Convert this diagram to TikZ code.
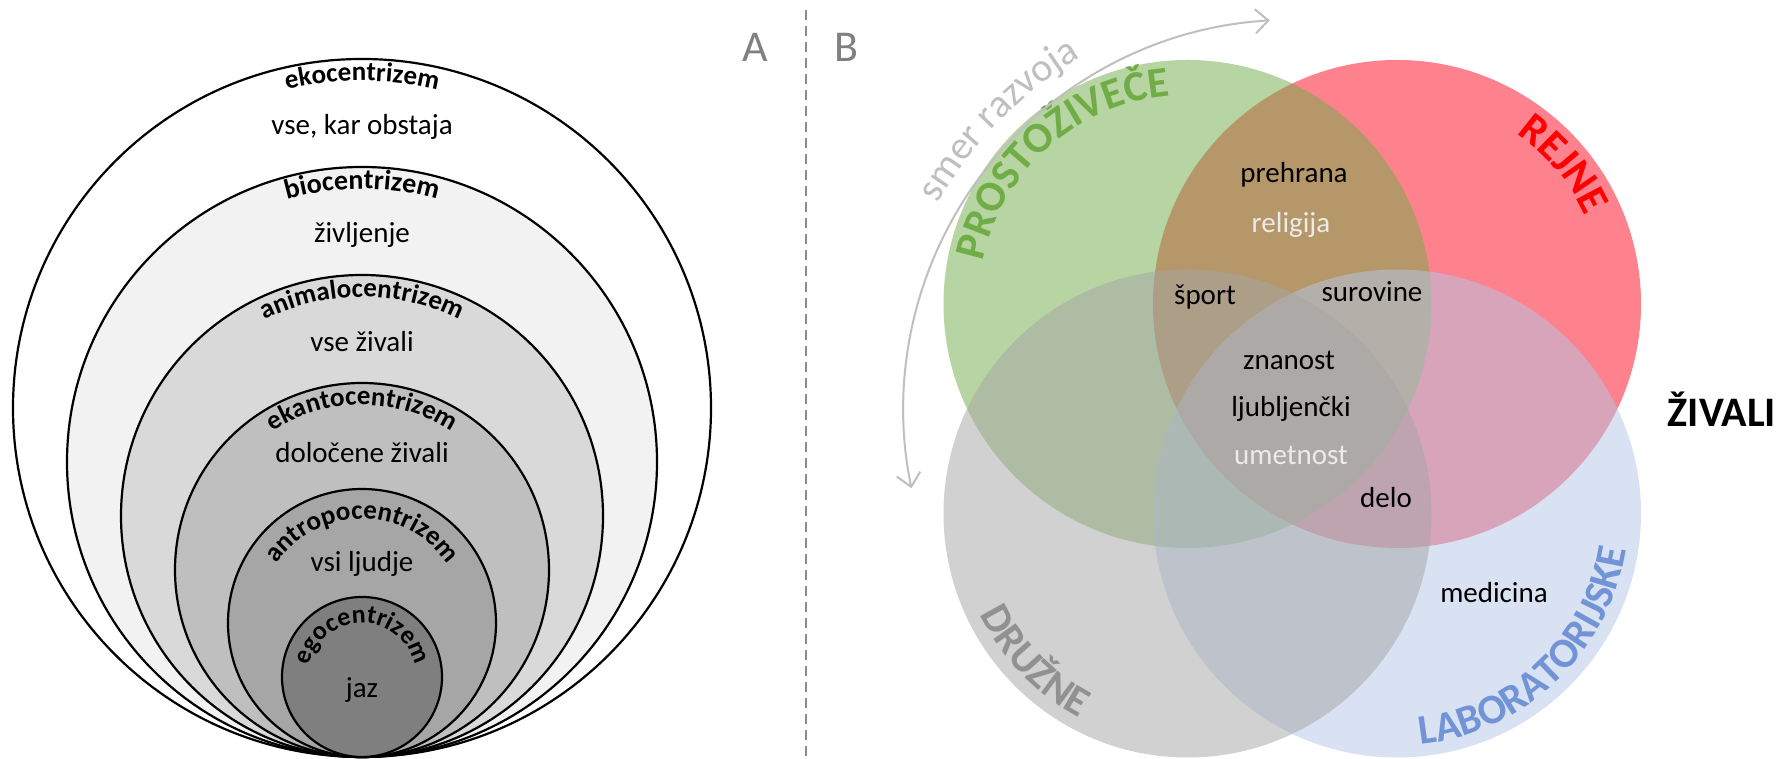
\documentclass[tikz,border=0pt]{standalone}
\usepackage{fontspec}
\setmainfont{Carlito}
\usetikzlibrary{decorations.text,arrows.meta}
\definecolor{fillB}{RGB}{242,242,242}
\definecolor{fillC}{RGB}{217,217,217}
\definecolor{fillD}{RGB}{191,191,191}
\definecolor{fillE}{RGB}{166,166,166}
\definecolor{fillF}{RGB}{127,127,127}
\definecolor{setgreen}{RGB}{112,173,71}
\definecolor{setred}{RGB}{252,6,28}
\definecolor{setblue}{RGB}{180,199,231}
\definecolor{setgray}{RGB}{165,165,165}
\definecolor{labgreen}{RGB}{112,173,71}
\definecolor{labred}{RGB}{255,0,0}
\definecolor{labgray}{RGB}{145,145,145}
\definecolor{labblue}{RGB}{114,148,214}
\definecolor{arrowgray}{RGB}{191,191,191}
\definecolor{dashgray}{RGB}{140,140,140}
\definecolor{paneltxt}{RGB}{128,128,128}
\definecolor{softwhite}{RGB}{235,235,235}
\newcommand\ringlabel[4]{%
  \path[decorate, decoration={text along path, text align=center,
      text={|\fontsize{#3}{#3}\selectfont\bfseries|#4}}]
    (#1.center) ++(200:#2) arc[start angle=200, end angle=-20, radius=#2];}
\begin{document}
\begin{tikzpicture}[x=1pt,y=1pt,
  ring/.style={circle, draw=black, line width=2.2pt, inner sep=0pt},
  setcircle/.style={circle, inner sep=0pt, minimum size=488pt, fill opacity=0.5},
  bodytext/.style={anchor=base, inner sep=0pt, font=\fontsize{29}{30}\selectfont},
  paneltag/.style={anchor=base, inner sep=0pt, text=paneltxt, font=\fontsize{44}{44}\selectfont},
  divider/.style={draw=dashgray, line width=2pt, dash pattern=on 10pt off 6pt},
  devarrow/.style={draw=arrowgray, line width=2pt,
     arrows={Straight Barb[length=13pt,width=24pt]-Straight Barb[length=13pt,width=24pt]}}
]
\useasboundingbox (0,0) rectangle (1780,759);
\fill[white] (0,0) rectangle (1780,759);

% ---------------- panel A ----------------
\node[ring, fill=white, minimum size=698pt] (eko) at (362,351) {};
\node[ring, fill=fillB, minimum size=590pt] (bio) at (362,297) {};
\node[ring, fill=fillC, minimum size=482pt] (anim) at (362,243) {};
\node[ring, fill=fillD, minimum size=374pt] (ekan) at (362,189) {};
\node[ring, fill=fillE, minimum size=268pt] (antr) at (362,136) {};
\node[ring, fill=fillF, minimum size=160pt] (ego) at (362,82) {};

\ringlabel{eko}{327}{27}{ekocentrizem}
\ringlabel{bio}{273}{28}{biocentrizem}
\ringlabel{anim}{219}{27}{animalocentrizem}
\ringlabel{ekan}{165}{27}{ekantocentrizem}
\ringlabel{antr}{104}{27}{antropocentrizem}
\ringlabel{ego}{54}{26}{egocentrizem}

\node[bodytext] (t1) at (362,624) {vse, kar obstaja};
\node[bodytext] (t2) at (362,516) {življenje};
\node[bodytext] (t3) at (362,407) {vse živali};
\node[bodytext] (t4) at (362,296) {določene živali};
\node[bodytext] (t5) at (362,187) {vsi ljudje};
\node[bodytext] (t6) at (362,61) {jaz};

% ---------------- divider & tags ----------------
\coordinate (dtop) at (806,749);
\coordinate (dbot) at (806,0);
\draw[divider] (dtop) -- (dbot);
\node[paneltag] (tagA) at (755,697) {A};
\node[paneltag] (tagB) at (846,697) {B};

% ---------------- panel B ----------------
\node[setcircle, fill=setred] (rejne) at (1397,455) {};
\node[setcircle, fill=setgreen] (prosto) at (1187.5,455) {};
\node[setcircle, fill=setblue] (lab) at (1397,245.5) {};
\node[setcircle, fill=setgray] (druzne) at (1187.5,245.5) {};
\coordinate (vc) at (1292.25,350.25);

% set labels
\path[decorate, decoration={text along path, text align=center, text color=labgreen,
   text={|\fontsize{43}{43}\selectfont\bfseries|PROSTOŽIVEČE}}]
  (prosto.center) ++(201.5:209) arc[start angle=201.5, end angle=61.5, radius=209];
\path[decorate, decoration={text along path, text align=center, text color=labred,
   text={|\fontsize{43}{43}\selectfont\bfseries|REJNE}}]
  (rejne.center) ++(110:208) arc[start angle=110, end angle=-30, radius=208];
\path[decorate, decoration={text along path, text align=center, text color=labgray,
   text={|\fontsize{42}{42}\selectfont\bfseries|DRUŽNE}}]
  (druzne.center) ++(154:231) arc[start angle=154, end angle=294, radius=231];
\path[decorate, decoration={text along path, text align=center, text color=labblue,
   text={|\fontsize{42}{42}\selectfont\bfseries|LABORATORIJSKE}}]
  (lab.center) ++(243.5:232) arc[start angle=243.5, end angle=383.5, radius=232];

% development arrow
\draw[devarrow] (vc) ++(93.3:389) arc[start angle=93.3, end angle=191.8, radius=389];
\path[decorate, decoration={text along path, text align=center, text color=arrowgray,
   text={|\fontsize{40}{40}\selectfont|smer razvoja}}]
  (vc) ++(205.5:410) arc[start angle=205.5, end angle=65.5, radius=410];

% region texts
\node[bodytext] (prehrana) at (1294,576) {prehrana};
\node[bodytext, text=softwhite] (religija) at (1291,526) {religija};
\node[bodytext] (sport) at (1205,454) {šport};
\node[bodytext] (surovine) at (1372,457) {surovine};
\node[bodytext] (znanost) at (1289,389) {znanost};
\node[bodytext] (ljub) at (1291,342) {ljubljenčki};
\node[bodytext, text=softwhite] (umetnost) at (1291,294) {umetnost};
\node[bodytext] (delo) at (1386,251) {delo};
\node[bodytext] (medicina) at (1494,156) {medicina};

\node[anchor=base, inner sep=0pt, font=\fontsize{42}{42}\selectfont\bfseries] (zivali) at (1722,332) {ŽIVALI};
\end{tikzpicture}
\end{document}
